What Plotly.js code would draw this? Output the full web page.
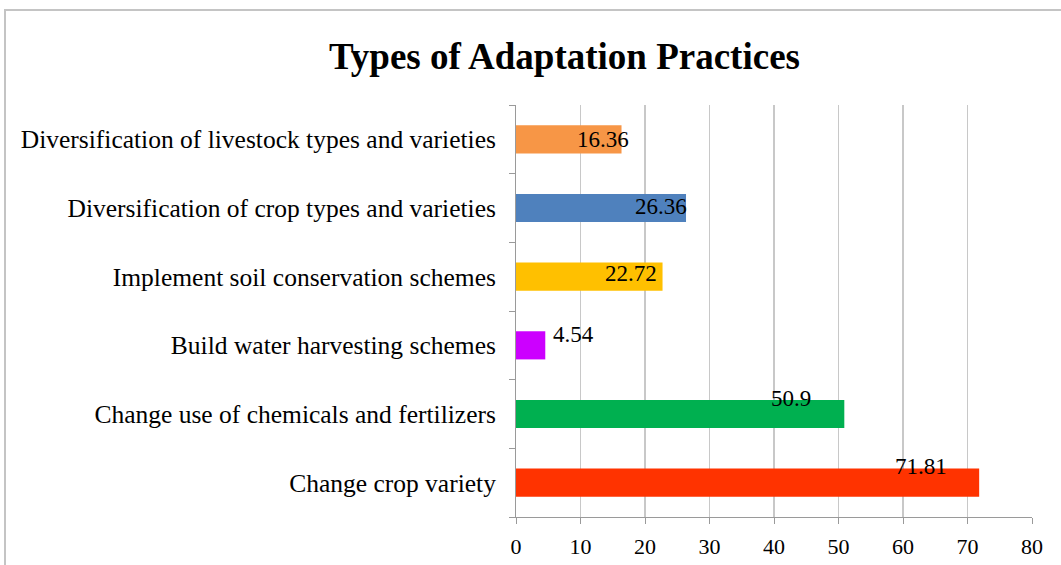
<!DOCTYPE html>
<html>
<head>
<meta charset="utf-8">
<script src="https://cdn.plot.ly/plotly-3.0.1.min.js"></script>
<style>
  html, body { margin: 0; padding: 0; background: #fff; }
  #chart { width: 1061px; height: 565px; position: absolute; left: 0; top: 0; }
  #frame { position: absolute; left: 4px; top: 9px; width: 1100px; height: 600px;
           border-left: 2px solid #c4c4c4; border-top: 2px solid #c4c4c4; pointer-events: none; }
</style>
</head>
<body>
<div id="chart"></div>
<div id="frame"></div>
<script>
// Data (bottom to top)
const categories = [
  "Change crop variety",
  "Change use of chemicals and fertilizers",
  "Build water harvesting schemes",
  "Implement soil conservation schemes",
  "Diversification of crop types and varieties",
  "Diversification of livestock types and varieties"
];
const values = [71.81, 50.9, 4.54, 22.72, 26.36, 16.36];
const valueLabels = ["71.81", "50.9", "4.54", "22.72", "26.36", "16.36"];
const xTicks = [0, 10, 20, 30, 40, 50, 60, 70, 80];

// Styling
const colors = ["#ff3300", "#00b050", "#cc00ff", "#ffc000", "#4f81bd", "#f79646"];
const labelAnchor = ["right", "right", "left", "right", "right", "right"];
const labelXShift = [-30, -31, 6, -4, 3, 9];
const labelYShift = [16, 16, 11, 3, 2, 0];

const font = "Liberation Serif, Times New Roman, serif";

const trace = {
  type: "bar",
  orientation: "h",
  y: categories,
  x: values,
  marker: { color: colors },
  hoverinfo: "none"
};

const annotations = values.map((v, i) => ({
  x: v, y: categories[i], xref: "x", yref: "y",
  text: valueLabels[i], showarrow: false,
  xanchor: labelAnchor[i], yanchor: "middle",
  xshift: labelXShift[i], yshift: labelYShift[i],
  font: { family: font, size: 23, color: "#000" }
}));

const layout = {
  width: 1061, height: 565,
  margin: { l: 516, r: 29, t: 105, b: 48, pad: 0 },
  paper_bgcolor: "#fff", plot_bgcolor: "#fff",
  showlegend: false,
  bargap: 0.59,
  title: {
    text: "<b>Types of Adaptation Practices</b>",
    font: { family: font, size: 37, color: "#000" },
    x: 0.532, xanchor: "center", y: 0.9, yanchor: "middle", yref: "container"
  },
  xaxis: {
    range: [0, 80], tickvals: xTicks, ticktext: xTicks.map(String),
    showgrid: true, gridcolor: "#c8c8c8", gridwidth: 1.5,
    zeroline: false,
    showline: true, linecolor: "#9a9a9a", linewidth: 1,
    ticks: "outside", ticklen: 6, tickcolor: "#9a9a9a",
    tickfont: { family: font, size: 22, color: "#000" },
    ticklabelstandoff: 4,
    fixedrange: true
  },
  yaxis: {
    type: "category", categoryorder: "array", categoryarray: categories,
    showgrid: false, zeroline: false,
    showline: true, linecolor: "#9a9a9a", linewidth: 1,
    ticks: "outside", ticklen: 6, tickcolor: "#9a9a9a", tickson: "boundaries",
    tickfont: { family: font, size: 25.5, color: "#000" },
    ticklabelstandoff: 14,
    fixedrange: true
  },
  annotations: annotations
};

Plotly.newPlot("chart", [trace], layout, { displayModeBar: false, staticPlot: true });
</script>
</body>
</html>
